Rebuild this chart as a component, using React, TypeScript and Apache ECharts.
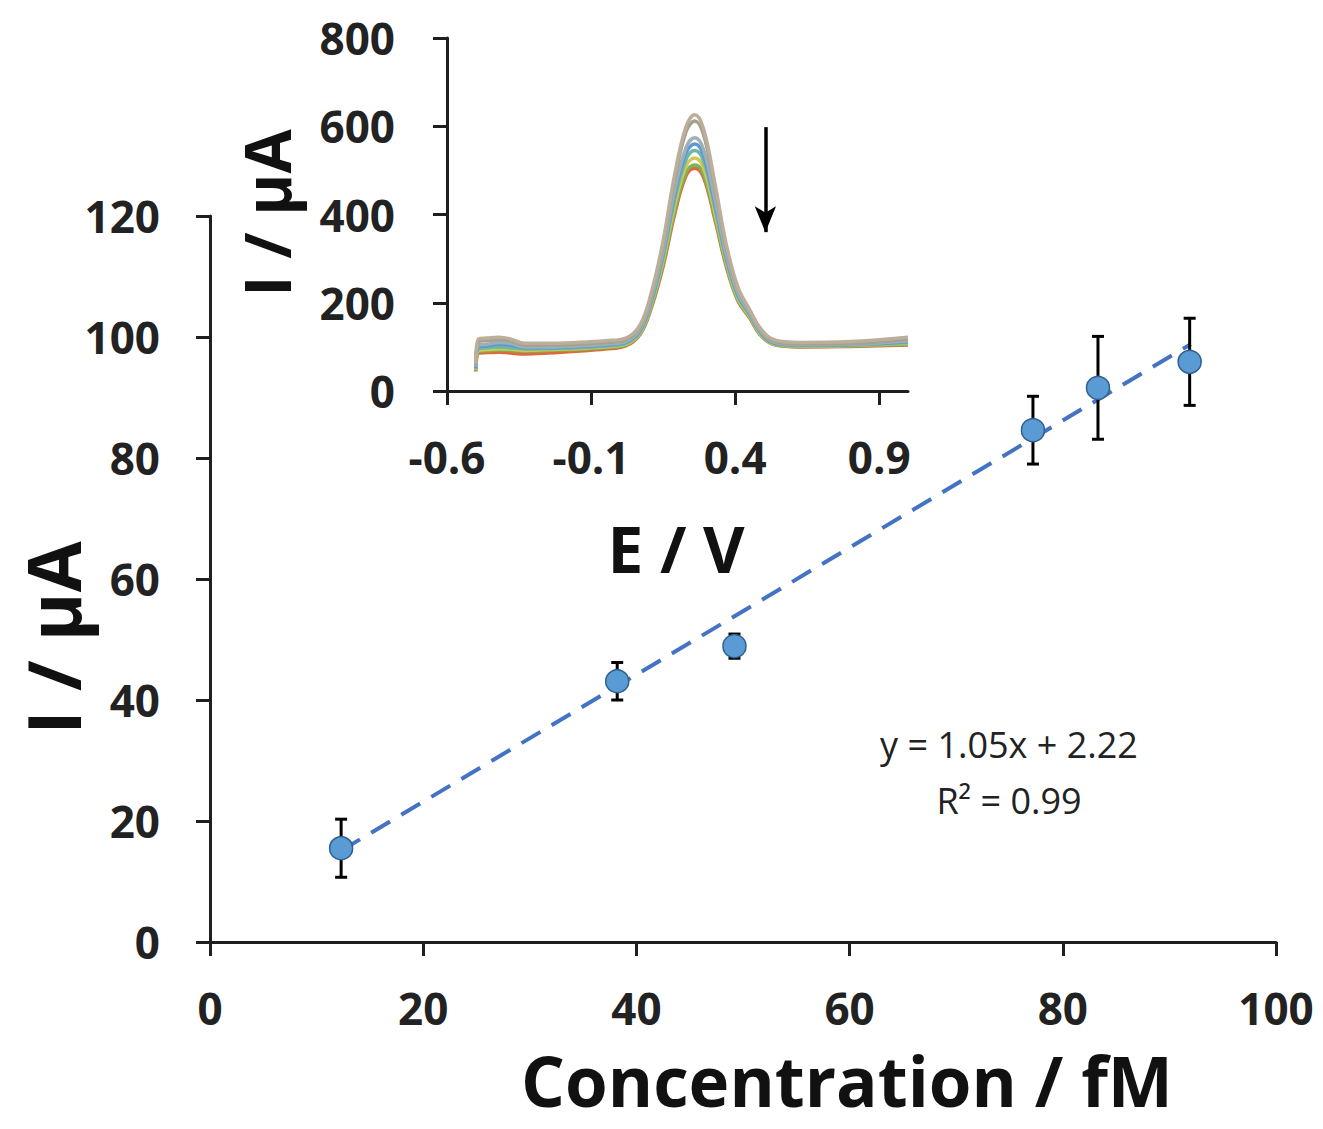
import React, { useEffect, useRef } from "react";
import * as echarts from "echarts";

// ---- Main calibration data ----
const concentration = [12.3, 38.2, 49.2, 77.2, 83.3, 91.9];
const current = [15.5, 43.1, 48.9, 84.6, 91.6, 95.9];
const currentErr = [4.8, 3.1, 2.0, 5.6, 8.5, 7.2];
const trendX = [12.3, 92.0];
const trendY = [15.1, 98.8];
const mainXTicks = [0, 20, 40, 60, 80, 100];
const mainYTicks = [0, 20, 40, 60, 80, 100, 120];

// ---- Inset DPV curves ----
const potential = [-0.5, -0.49, -0.46, -0.42, -0.38, -0.33, -0.25, -0.15, -0.05, 0.02, 0.07, 0.11, 0.15, 0.19, 0.23, 0.26, 0.29, 0.33, 0.37, 0.41, 0.45, 0.49, 0.54, 0.62, 0.8, 1.0];
const dpv1 = [62, 118, 120, 122, 118, 108, 108, 110, 114, 120, 150, 225, 340, 490, 600, 626, 595, 470, 330, 235, 185, 140, 115, 110, 112, 122];
const dpv2 = [58, 112, 114, 116, 114, 104, 104, 106, 110, 116, 146, 220, 332, 480, 588, 612, 582, 460, 322, 230, 182, 138, 112, 107, 108, 118];
const dpv3 = [55, 104, 106, 110, 108, 100, 100, 102, 106, 112, 140, 212, 318, 455, 552, 574, 548, 435, 308, 222, 178, 134, 110, 105, 106, 114];
const dpv4 = [52, 100, 102, 106, 104, 98, 98, 100, 104, 110, 138, 208, 312, 445, 540, 560, 535, 425, 302, 218, 176, 132, 108, 104, 105, 112];
const dpv5 = [50, 96, 98, 100, 98, 95, 96, 98, 102, 108, 134, 202, 304, 434, 525, 545, 522, 415, 296, 214, 172, 130, 107, 103, 104, 110];
const dpv6 = [48, 92, 94, 96, 95, 92, 94, 96, 100, 106, 132, 198, 296, 420, 510, 528, 506, 404, 290, 210, 170, 128, 106, 102, 103, 108];
const dpv7 = [46, 90, 91, 93, 92, 90, 92, 94, 98, 104, 130, 194, 288, 408, 495, 512, 492, 394, 284, 206, 168, 126, 105, 101, 102, 106];
const dpv8 = [44, 86, 87, 88, 86, 84, 86, 90, 95, 102, 128, 190, 282, 400, 488, 505, 485, 388, 280, 204, 166, 125, 104, 100, 101, 104];
const dpvCurves = [dpv8, dpv7, dpv6, dpv5, dpv4, dpv3, dpv2, dpv1];
const dpvColors = ["#E0683C", "#7FB257", "#D2C84E", "#6DB6A8", "#5B9BD5", "#9DB0B8", "#A8A08F", "#BBAE9A"];
const insetXTicks = [-0.6, -0.1, 0.4, 0.9];
const insetYTicks = [0, 200, 400, 600, 800];
const arrowE = 0.505;
const arrowFrom = 598;
const arrowTo = 360;

const FONT = "'Open Sans', 'Noto Sans', sans-serif";
const TXT = "#222222";
const AX = "#1f1f1f";

export default function App() {
  const ref = useRef<HTMLDivElement>(null);

  useEffect(() => {
    if (!ref.current) return;
    const chart = echarts.init(ref.current, undefined, { renderer: "svg" });

    const axisLine = { show: true, onZero: false, lineStyle: { color: AX, width: 3 } };
    const axisTick = { show: true, inside: false, length: 14, lineStyle: { color: AX, width: 3 } };
    const labelStyle = { color: TXT, fontFamily: FONT, fontWeight: "bold" as const, fontSize: 44 };

    const insetSeries = dpvCurves.map((curve, i) => ({
      type: "line",
      xAxisIndex: 1,
      yAxisIndex: 1,
      data: potential.map((e, j) => [e, curve[j]]),
      smooth: 0.4,
      symbol: "none",
      lineStyle: { color: dpvColors[i], width: 3.5 },
      z: 2,
      ...(i === dpvCurves.length - 1
        ? {
            markLine: {
              silent: true,
              symbol: ["none", "arrow"],
              symbolSize: [16, 26],
              label: { show: false },
              lineStyle: { color: "#000", width: 3.5, type: "solid" },
              data: [[{ coord: [arrowE, arrowFrom] }, { coord: [arrowE, arrowTo] }]],
            },
          }
        : {}),
    }));

    chart.setOption({
      animation: false,
      backgroundColor: "#ffffff",
      grid: [
        { left: 210, right: 47, top: 216, bottom: 187, containLabel: false },
        { left: 447, width: 461, top: 38, height: 353, containLabel: false },
      ],
      xAxis: [
        {
          type: "value",
          gridIndex: 0,
          min: mainXTicks[0],
          max: mainXTicks[mainXTicks.length - 1],
          interval: 20,
          axisLine,
          axisTick,
          splitLine: { show: false },
          axisLabel: { ...labelStyle, margin: 44 },
        },
        {
          type: "value",
          gridIndex: 1,
          min: -0.6,
          max: 1.0,
          axisLine,
          axisTick: { ...axisTick, customValues: insetXTicks },
          splitLine: { show: false },
          axisLabel: {
            ...labelStyle,
            margin: 44,
            customValues: insetXTicks,
            formatter: (v: number) => v.toFixed(1),
          },
        },
      ],
      yAxis: [
        {
          type: "value",
          gridIndex: 0,
          min: mainYTicks[0],
          max: mainYTicks[mainYTicks.length - 1],
          interval: 20,
          axisLine,
          axisTick,
          splitLine: { show: false },
          axisLabel: { ...labelStyle, margin: 50 },
        },
        {
          type: "value",
          gridIndex: 1,
          min: insetYTicks[0],
          max: insetYTicks[insetYTicks.length - 1],
          interval: 200,
          axisLine,
          axisTick,
          splitLine: { show: false },
          axisLabel: { ...labelStyle, margin: 52 },
        },
      ],
      series: [
        {
          type: "line",
          xAxisIndex: 0,
          yAxisIndex: 0,
          data: trendX.map((x, i) => [x, trendY[i]]),
          symbol: "none",
          lineStyle: { color: "#4472C4", width: 4, type: [22, 13] },
          z: 2,
        },
        {
          type: "custom",
          xAxisIndex: 0,
          yAxisIndex: 0,
          data: concentration.map((c, i) => [c, current[i] - currentErr[i], current[i] + currentErr[i]]),
          encode: { x: 0, y: [1, 2] },
          renderItem: (_params: any, api: any) => {
            const lo = api.coord([api.value(0), api.value(1)]);
            const hi = api.coord([api.value(0), api.value(2)]);
            const w = 6;
            const st = { stroke: "#000", lineWidth: 3 };
            return {
              type: "group",
              children: [
                { type: "line", shape: { x1: lo[0], y1: lo[1], x2: hi[0], y2: hi[1] }, style: st },
                { type: "line", shape: { x1: lo[0] - w, y1: lo[1], x2: lo[0] + w, y2: lo[1] }, style: st },
                { type: "line", shape: { x1: hi[0] - w, y1: hi[1], x2: hi[0] + w, y2: hi[1] }, style: st },
              ],
            };
          },
          z: 3,
        },
        {
          type: "scatter",
          xAxisIndex: 0,
          yAxisIndex: 0,
          data: concentration.map((c, i) => [c, current[i]]),
          symbol: "circle",
          symbolSize: 23,
          itemStyle: { color: "#5B9BD5", borderColor: "#2F5F8C", borderWidth: 1.5, opacity: 1 },
          z: 4,
        },
        ...insetSeries,
      ],
      graphic: [
        {
          type: "text",
          x: 52,
          y: 638,
          rotation: Math.PI / 2,
          style: { text: "I / μA", font: `bold 74px ${FONT}`, fill: "#111", textAlign: "center", textVerticalAlign: "middle" },
        },
        {
          type: "text",
          x: 847,
          y: 1080,
          style: { text: "Concentration / fM", font: `bold 69px ${FONT}`, lineHeight: 69, fill: "#111", textAlign: "center", textVerticalAlign: "middle" },
        },
        {
          type: "text",
          x: 266,
          y: 213,
          rotation: Math.PI / 2,
          style: { text: "I / μA", font: `bold 64px ${FONT}`, fill: "#111", textAlign: "center", textVerticalAlign: "middle" },
        },
        {
          type: "text",
          x: 676,
          y: 548,
          style: { text: "E / V", font: `bold 64px ${FONT}`, fill: "#111", textAlign: "center", textVerticalAlign: "middle" },
        },
        {
          type: "text",
          x: 1009,
          y: 744,
          style: { text: "y = 1.05x + 2.22", font: `36px ${FONT}`, fill: TXT, textAlign: "center", textVerticalAlign: "middle" },
        },
        {
          type: "text",
          x: 1009,
          y: 800,
          style: { text: "R² = 0.99", font: `36px ${FONT}`, fill: TXT, textAlign: "center", textVerticalAlign: "middle" },
        },
      ],
    });

    return () => chart.dispose();
  }, []);

  return (
    <div
      ref={ref}
      style={{ position: "fixed", left: 0, top: 0, width: 1323, height: 1129, background: "#fff" }}
    />
  );
}
